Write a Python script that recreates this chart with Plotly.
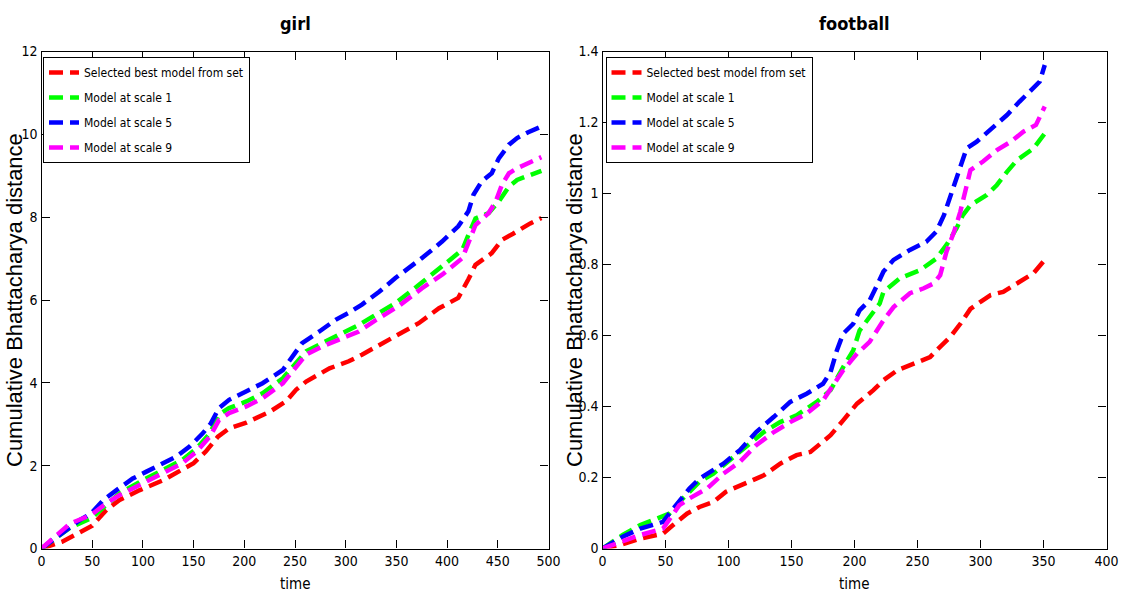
import plotly.graph_objects as go

# ---------------- data: girl ----------------
girl_red_t = [0, 20, 50, 64, 77, 97, 120, 139, 150, 162, 174, 185, 202, 225, 241, 251, 261, 284, 303, 316, 336, 352, 372, 392, 411, 421, 428, 444, 454, 465, 482, 493]
girl_red_v = [0, 0.16, 0.55, 0.93, 1.17, 1.41, 1.65, 1.9, 2.06, 2.34, 2.7, 2.9, 3.04, 3.3, 3.55, 3.83, 4.03, 4.35, 4.52, 4.68, 4.96, 5.16, 5.44, 5.8, 6.05, 6.5, 6.85, 7.13, 7.45, 7.6, 7.85, 7.98]

girl_green_t = [0, 28, 49, 64, 77, 97, 120, 139, 153, 166, 175, 185, 202, 218, 238, 251, 261, 277, 297, 313, 330, 349, 372, 395, 415, 421, 428, 441, 451, 461, 469, 480, 493]
girl_green_v = [0, 0.5, 0.73, 1.05, 1.33, 1.61, 1.9, 2.14, 2.42, 2.78, 3.23, 3.39, 3.55, 3.75, 4.11, 4.48, 4.76, 4.96, 5.2, 5.4, 5.65, 5.92, 6.36, 6.81, 7.21, 7.57, 7.97, 8.1, 8.38, 8.74, 8.9, 9.0, 9.12]

girl_blue_t = [0, 28, 38, 49, 61, 74, 90, 103, 120, 133, 146, 159, 167, 175, 185, 202, 218, 238, 248, 257, 274, 290, 303, 316, 333, 349, 375, 395, 411, 421, 426, 434, 444, 451, 461, 469, 480, 493]
girl_blue_v = [0, 0.52, 0.69, 0.85, 1.17, 1.41, 1.69, 1.85, 2.06, 2.22, 2.46, 2.78, 3.02, 3.39, 3.59, 3.79, 3.99, 4.31, 4.64, 4.96, 5.24, 5.52, 5.69, 5.89, 6.2, 6.53, 7.01, 7.41, 7.78, 8.14, 8.54, 8.86, 9.06, 9.42, 9.75, 9.91, 10.05, 10.19]

girl_magenta_t = [0, 28, 49, 64, 77, 97, 120, 139, 153, 166, 175, 185, 202, 218, 238, 251, 261, 277, 297, 313, 330, 352, 375, 395, 415, 421, 428, 441, 448, 454, 461, 469, 480, 493]
girl_magenta_v = [0, 0.6, 0.81, 1.09, 1.29, 1.53, 1.81, 2.06, 2.34, 2.7, 3.1, 3.27, 3.43, 3.63, 3.99, 4.4, 4.68, 4.88, 5.08, 5.24, 5.52, 5.85, 6.28, 6.61, 7.01, 7.41, 7.81, 8.1, 8.38, 8.78, 9.06, 9.18, 9.3, 9.45]

# ---------------- data: football ----------------
foot_red_t = [0, 14, 30, 48, 56, 67, 77, 88, 98, 114, 128, 141, 154, 165, 181, 191, 202, 215, 223, 234, 247, 260, 265, 276, 284, 292, 300, 308, 318, 331, 342, 352]
foot_red_v = [0, 0.01, 0.028, 0.042, 0.066, 0.098, 0.117, 0.131, 0.16, 0.183, 0.206, 0.239, 0.263, 0.272, 0.319, 0.361, 0.408, 0.446, 0.474, 0.502, 0.521, 0.539, 0.558, 0.596, 0.633, 0.675, 0.695, 0.714, 0.723, 0.752, 0.775, 0.817]

foot_green_t = [0, 16, 30, 48, 53, 61, 77, 88, 101, 114, 128, 141, 154, 170, 181, 191, 199, 204, 212, 220, 223, 236, 252, 265, 273, 281, 286, 292, 305, 313, 321, 329, 342, 351]
foot_green_v = [0, 0.038, 0.066, 0.089, 0.098, 0.131, 0.188, 0.211, 0.249, 0.286, 0.328, 0.356, 0.375, 0.413, 0.446, 0.511, 0.558, 0.614, 0.652, 0.69, 0.723, 0.761, 0.784, 0.817, 0.855, 0.902, 0.939, 0.967, 0.996, 1.024, 1.061, 1.094, 1.127, 1.169]

foot_blue_t = [0, 16, 30, 48, 53, 61, 69, 77, 88, 96, 109, 122, 136, 149, 162, 175, 181, 186, 191, 199, 204, 212, 218, 223, 231, 244, 257, 265, 271, 279, 284, 289, 297, 308, 321, 331, 339, 347, 351]
foot_blue_v = [0, 0.033, 0.056, 0.075, 0.098, 0.136, 0.169, 0.197, 0.22, 0.239, 0.277, 0.328, 0.371, 0.413, 0.436, 0.464, 0.497, 0.558, 0.605, 0.633, 0.671, 0.699, 0.742, 0.78, 0.813, 0.841, 0.864, 0.893, 0.939, 1.024, 1.071, 1.127, 1.146, 1.179, 1.221, 1.259, 1.287, 1.315, 1.362]

foot_magenta_t = [0, 16, 30, 48, 53, 61, 69, 83, 96, 109, 122, 136, 149, 162, 175, 183, 191, 202, 212, 223, 231, 244, 255, 263, 268, 273, 279, 284, 289, 292, 302, 313, 324, 334, 344, 351]
foot_magenta_v = [0, 0.019, 0.038, 0.056, 0.08, 0.122, 0.141, 0.169, 0.211, 0.244, 0.291, 0.328, 0.356, 0.38, 0.417, 0.46, 0.502, 0.549, 0.582, 0.643, 0.68, 0.719, 0.733, 0.747, 0.77, 0.836, 0.892, 0.949, 1.024, 1.066, 1.09, 1.122, 1.146, 1.174, 1.193, 1.245]

series_names = ["Selected best model from set", "Model at scale 1", "Model at scale 5", "Model at scale 9"]
series_colors = ["#ff0000", "#00ff00", "#0000ff", "#ff00ff"]
titles = ["girl", "football"]
x_label = "time"
y_label = "Cumulative Bhattacharya distance"

NARROW = "Liberation Sans Narrow, DejaVu Sans Condensed, Arial Narrow, sans-serif"
REG = "Liberation Sans, Arial, Helvetica, sans-serif"

W, H = 1124, 599
L1, R1 = 41.5, 548.5
L2, R2 = 602.5, 1106.5
TOP, BOT = 51.5, 548.5


def px(x):
    return x / W


def py(y):
    return 1 - y / H


fig = go.Figure()

girl = [(girl_red_t, girl_red_v), (girl_green_t, girl_green_v), (girl_blue_t, girl_blue_v), (girl_magenta_t, girl_magenta_v)]
foot = [(foot_red_t, foot_red_v), (foot_green_t, foot_green_v), (foot_blue_t, foot_blue_v), (foot_magenta_t, foot_magenta_v)]

for i, (t, v) in enumerate(girl):
    fig.add_trace(go.Scatter(x=t, y=v, mode="lines", name=series_names[i],
                             line=dict(color=series_colors[i], width=4.5, dash="14px,7px"),
                             xaxis="x", yaxis="y", legend="legend", legendgroup="g%d" % i))
for i, (t, v) in enumerate(foot):
    fig.add_trace(go.Scatter(x=t, y=v, mode="lines", name=series_names[i],
                             line=dict(color=series_colors[i], width=4.5, dash="14px,7px"),
                             xaxis="x2", yaxis="y2", legend="legend2", legendgroup="f%d" % i))

axis_common = dict(showline=True, linecolor="black", linewidth=1.2, mirror="ticks",
                   ticks="inside", ticklen=8, tickcolor="black", tickwidth=1,
                   showgrid=False, zeroline=False, automargin=False,
                   tickfont=dict(family=NARROW, size=14, color="black"))

legend_common = dict(yanchor="top", xanchor="left",
                     bgcolor="white", bordercolor="black", borderwidth=1,
                     font=dict(family=NARROW, size=12, color="black"),
                     tracegroupgap=6, itemwidth=30)

fig.update_layout(
    width=W, height=H, autosize=False,
    margin=dict(l=0, r=0, t=0, b=0, autoexpand=False),
    paper_bgcolor="white", plot_bgcolor="white",
    xaxis=dict(domain=[px(L1), px(R1)], range=[0, 500], dtick=50, tick0=0, anchor="y", **axis_common),
    yaxis=dict(domain=[py(BOT), py(TOP)], range=[0, 12], dtick=2, tick0=0, anchor="x", **axis_common),
    xaxis2=dict(domain=[px(L2), px(R2)], range=[0, 400], dtick=50, tick0=0, anchor="y2", **axis_common),
    yaxis2=dict(domain=[py(BOT), py(TOP)], range=[0, 1.4], dtick=0.2, tick0=0, anchor="x2", **axis_common),
    legend=dict(x=px(43), y=py(57), **legend_common),
    legend2=dict(x=px(605.5), y=py(57), **legend_common),
    showlegend=True,
)

annotations = []
for cx, title in [((L1 + R1) / 2, titles[0]), ((L2 + R2) / 2, titles[1])]:
    annotations.append(dict(x=px(cx), y=py(24), xref="paper", yref="paper", text="<b>%s</b>" % title,
                            showarrow=False, xanchor="center", yanchor="middle",
                            font=dict(family=NARROW, size=18, color="black")))
    annotations.append(dict(x=px(cx), y=py(584), xref="paper", yref="paper", text=x_label,
                            showarrow=False, xanchor="center", yanchor="middle",
                            font=dict(family=NARROW, size=15, color="black")))
for lx in [14, 574]:
    annotations.append(dict(x=px(lx), y=py(300), xref="paper", yref="paper", text=y_label,
                            showarrow=False, xanchor="center", yanchor="middle", textangle=-90,
                            font=dict(family=REG, size=22, color="black")))
fig.update_layout(annotations=annotations)

fig.write_html("out.html", config={"displayModeBar": False},
               post_script="document.body.style.margin='0px';document.body.style.overflow='hidden';")
